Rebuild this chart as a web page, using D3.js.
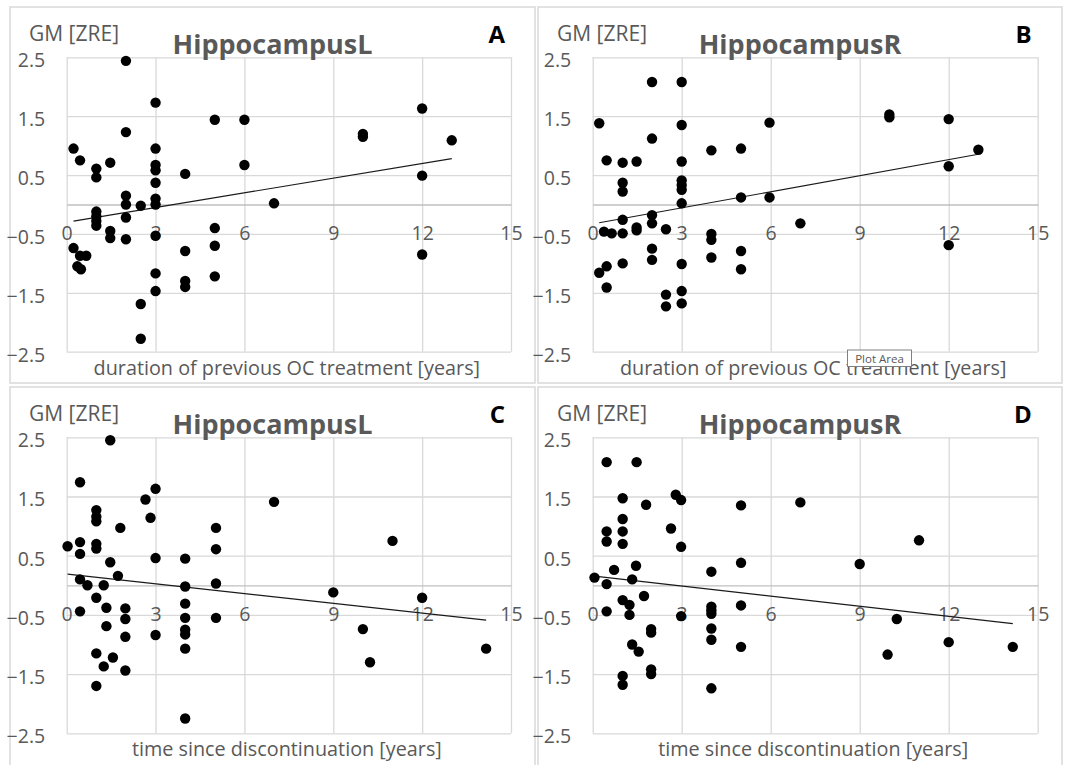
<!DOCTYPE html>
<html>
<head>
<meta charset="utf-8">
<script src="https://cdn.jsdelivr.net/npm/d3@7"></script>
<style>
  html, body { margin: 0; padding: 0; background: #fff; }
  svg { display: block; font-family: "Open Sans", "Noto Sans", sans-serif; }
</style>
</head>
<body>
<svg id="chart" width="1068" height="765"></svg>
<script>
// ---------------- DATA ----------------
const panelLetters = ["A", "B", "C", "D"];
const panelTitles = ["HippocampusL", "HippocampusR", "HippocampusL", "HippocampusR"];
const xAxisTitles = [
  "duration of previous OC treatment [years]",
  "duration of previous OC treatment [years]",
  "time since discontinuation [years]",
  "time since discontinuation [years]"
];
const yAxisLabel = "GM [ZRE]";
const xTicks = [0, 3, 6, 9, 12, 15];
const yTicks = [2.5, 1.5, 0.5, -0.5, -1.5, -2.5];

// Panel A: duration of previous OC treatment vs GM HippocampusL
const A_x = [0.23,0.45,1.0,1.0,1.47,2.0,2.0,2.0,2.0,2.0,2.0,1.0,1.0,1.0,1.0,1.47,1.47,0.23,0.45,0.66,0.36,0.48,2.5,2.5,2.5,3,3,3,3,3,3,3,3,3,3,4,4,4,4,5,5,5,5,6,6,7,10,10,12,12,12,13];
const A_y = [0.95,0.75,0.61,0.46,0.71,2.44,1.23,0.15,0.0,-0.22,-0.59,-0.12,-0.2,-0.28,-0.36,-0.45,-0.57,-0.74,-0.87,-0.87,-1.05,-1.1,-0.02,-1.69,-2.28,1.73,0.95,0.67,0.58,0.37,0.1,0.0,-0.53,-1.17,-1.47,0.52,-0.79,-1.3,-1.4,1.44,-0.4,-0.7,-1.22,1.44,0.67,0.02,1.15,1.2,1.63,0.49,-0.85,1.09];

// Panel B: duration of previous OC treatment vs GM HippocampusR
const B_x = [0.22,0.47,1.01,1.48,1.01,1.01,2,2,2,2,2,2,1.01,1.01,1.01,1.48,1.48,0.38,0.64,0.22,0.47,0.47,2.47,2.47,2.47,3,3,3,3,3,3,3,3,3,3,4,4,4,4,5,5,5,5,5.96,5.96,7,10,10,12,12,12,13];
const B_y = [1.38,0.75,0.71,0.73,0.37,0.22,2.08,1.12,-0.18,-0.32,-0.75,-0.94,-0.26,-0.49,-1.0,-0.39,-0.44,-0.46,-0.49,-1.16,-1.05,-1.41,-0.42,-1.53,-1.73,2.08,1.35,0.73,0.41,0.33,0.25,0.02,-1.01,-1.47,-1.68,0.92,-0.5,-0.6,-0.9,0.95,0.12,-0.79,-1.1,1.39,0.12,-0.32,1.48,1.53,1.45,0.65,-0.69,0.93];

// Panel C: time since discontinuation vs GM HippocampusL
const C_x = [0.03,0.45,0.45,0.45,0.45,0.45,0.7,1,1,1,1,1,1,1,1,1.25,1.25,1.34,1.34,1.47,1.47,1.56,1.73,1.81,1.98,1.98,1.98,1.98,2.66,2.83,3,3,3,4,4,4,4,4,4,4,4,5.04,5.04,5.04,5.04,7,9,12,11,10,10.24,14.16];
const C_y = [0.66,1.74,0.73,0.53,0.1,-0.44,0.0,1.27,1.16,1.08,0.7,0.62,-0.21,-1.15,-1.7,0.0,-1.37,-0.38,-0.69,2.45,0.39,-1.22,0.16,0.97,-0.39,-0.57,-0.87,-1.44,1.45,1.14,1.63,0.46,-0.84,0.45,-0.02,-0.31,-0.55,-0.75,-0.83,-1.07,-2.25,0.97,0.61,0.03,-0.55,1.41,-0.12,-0.21,0.75,-0.74,-1.3,-1.07];

// Panel D: time since discontinuation vs GM HippocampusR
const D_x = [0.06,0.47,0.47,0.47,0.47,0.47,0.72,1.01,1.01,1.01,1.01,1.01,1.01,1.01,1.24,1.24,1.33,1.33,1.46,1.48,1.55,1.73,1.8,1.97,1.97,1.97,1.97,2.64,2.8,2.98,2.98,2.98,4,4,4,4,4,4,4,5,5,5,5,7,9,11,10.25,9.94,12,14.16];
const D_y = [0.13,2.08,0.91,0.74,0.02,-0.44,0.26,1.47,1.12,0.91,0.7,-0.25,-1.53,-1.68,-0.33,-0.5,0.1,-1.0,0.33,2.08,-1.12,-0.18,1.36,-0.74,-0.8,-1.42,-1.5,0.96,1.53,1.44,0.65,-0.52,0.23,-0.36,-0.42,-0.48,-0.73,-0.92,-1.74,1.35,0.38,-0.34,-1.04,1.4,0.36,0.76,-0.57,-1.17,-0.96,-1.04];

// Linear trend lines (intercept, slope, x start, x end)
const trendIntercepts = [-0.30, -0.33, 0.19, 0.16];
const trendSlopes = [0.083, 0.091, -0.055, -0.057];
const trendStarts = [0.23, 0.22, 0.03, 0.06];
const trendEnds = [13, 13, 14.16, 14.16];

const seriesX = [A_x, B_x, C_x, D_x];
const seriesY = [A_y, B_y, C_y, D_y];

// ---------------- LAYOUT ----------------
const layout = [
  { cx: 10,  cy: 7,   cw: 525, ch: 376, l: 66.7,  r: 511,    t: 57.3,  b: 351.7 },
  { cx: 538, cy: 7,   cw: 524, ch: 376, l: 592.7, r: 1037.7, t: 57.3,  b: 351.7 },
  { cx: 10,  cy: 387, cw: 525, ch: 390, l: 66.7,  r: 511,    t: 437.3, b: 733.3 },
  { cx: 538, cy: 387, cw: 524, ch: 390, l: 592.7, r: 1037.7, t: 437.3, b: 733.3 }
];

const TEXT = "#595959";
const GRID = "#d9d9d9";
const AXIS = "#bfbfbf";

const svg = d3.select("#chart");
svg.append("rect").attr("width", 1068).attr("height", 765).attr("fill", "#fff");

layout.forEach((L, i) => {
  const g = svg.append("g");
  // chart area border
  g.append("rect")
    .attr("x", L.cx).attr("y", L.cy).attr("width", L.cw).attr("height", L.ch)
    .attr("fill", "#fff").attr("stroke", GRID).attr("stroke-width", 1.5);

  const x = d3.scaleLinear().domain([0, 15]).range([L.l, L.r]);
  const y = d3.scaleLinear().domain([-2.5, 2.5]).range([L.b, L.t]);

  // gridlines via axes
  const yGrid = g.append("g").attr("transform", `translate(${L.l},0)`)
    .call(d3.axisLeft(y).tickValues(yTicks).tickSize(-(L.r - L.l)).tickFormat(""));
  yGrid.select(".domain").remove();
  yGrid.selectAll("line").attr("stroke", GRID).attr("stroke-width", 1.3);

  const xGrid = g.append("g").attr("transform", `translate(0,${L.b})`)
    .call(d3.axisBottom(x).tickValues(xTicks).tickSize(-(L.b - L.t)).tickFormat(""));
  xGrid.select(".domain").remove();
  xGrid.selectAll("line").attr("stroke", GRID).attr("stroke-width", 1.3);

  // horizontal axis line at y = 0
  const xAxis = g.append("g").attr("transform", `translate(0,${y(0)})`)
    .call(d3.axisBottom(x).tickValues(xTicks).tickSize(0).tickPadding(0)
      .tickFormat(d3.format("d")));
  xAxis.select(".domain").attr("stroke", AXIS).attr("stroke-width", 1.3);
  xAxis.selectAll("text")
    .attr("y", 35.5).attr("dy", null)
    .attr("fill", TEXT).attr("font-size", 19.5)
    .attr("font-family", "'Open Sans', sans-serif");

  // y tick labels
  const yAxis = g.append("g").attr("transform", `translate(${L.l},0)`)
    .call(d3.axisLeft(y).tickValues(yTicks).tickSize(0).tickPadding(21.5)
      .tickFormat(d3.format(".1f")));
  yAxis.select(".domain").remove();
  yAxis.selectAll("text")
    .attr("dy", "0.48em")
    .attr("fill", TEXT).attr("font-size", 19.5)
    .attr("font-family", "'Open Sans', sans-serif");

  // trend line
  const tx = [trendStarts[i], trendEnds[i]];
  g.append("path")
    .datum(tx)
    .attr("d", d3.line().x(d => x(d)).y(d => y(trendIntercepts[i] + trendSlopes[i] * d)))
    .attr("stroke", "#1a1a1a").attr("stroke-width", 1.2).attr("fill", "none");

  // points
  const pts = seriesX[i].map((v, k) => [v, seriesY[i][k]]);
  g.append("g").selectAll("circle").data(pts).join("circle")
    .attr("cx", d => x(d[0])).attr("cy", d => y(d[1])).attr("r", 5.2)
    .attr("fill", "#000");

  // texts
  g.append("text").attr("x", L.cx + 19).attr("y", L.t - 16)
    .attr("fill", TEXT).attr("font-size", 21).text(yAxisLabel);
  g.append("text").attr("x", L.cx + L.cw / 2).attr("y", L.t - 3)
    .attr("text-anchor", "middle").attr("fill", TEXT)
    .attr("font-size", 27).attr("font-weight", "bold").text(panelTitles[i]);
  g.append("text").attr("x", L.r - 6).attr("y", L.t - 14)
    .attr("text-anchor", "end").attr("fill", "#000")
    .attr("font-size", 24).attr("font-weight", "bold").text(panelLetters[i]);
  g.append("text").attr("x", (L.l + L.r) / 2 - 2).attr("y", L.b + 23)
    .attr("text-anchor", "middle").attr("fill", TEXT)
    .attr("font-size", 19.8).text(xAxisTitles[i]);
});

// "Plot Area" hover tooltip visible in the reference screenshot
const tip = svg.append("g").attr("transform", "translate(847.5,350)");
tip.append("rect").attr("width", 64).attr("height", 16.5)
  .attr("fill", "#fff").attr("stroke", "#808080").attr("stroke-width", 1);
tip.append("text").attr("x", 32).attr("y", 12.5).attr("text-anchor", "middle")
  .attr("font-size", 11.5).attr("fill", "#595959").text("Plot Area");
</script>
</body>
</html>
